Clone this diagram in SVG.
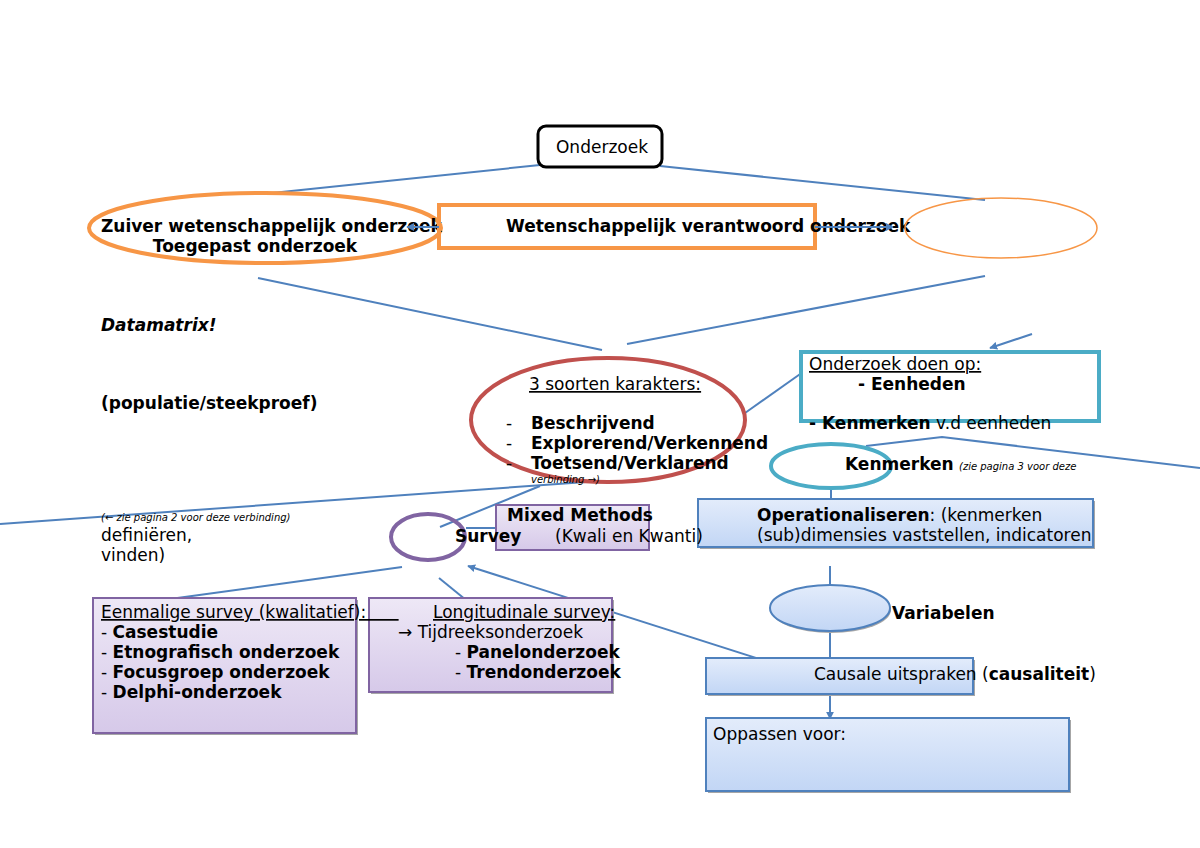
<svg xmlns="http://www.w3.org/2000/svg" width="1200" height="848" viewBox="0 0 1200 848">
<style>
text{font-family:"DejaVu Sans","Liberation Sans",sans-serif;font-size:17px;fill:#000}
.b{font-weight:bold}
.i{font-style:italic}
.u{text-decoration:underline}
.sm{font-size:10px;font-style:italic}
.c{fill:none;stroke:#4F81BD;stroke-width:2}
.or{fill:none;stroke:#F79646;stroke-width:4}
.pb{fill:url(#gp);stroke:#8064A2;stroke-width:2}
.bb{fill:url(#gb);stroke:#4F81BD;stroke-width:2}
.sh{fill:#A6A6A6}
</style>
<defs>
<linearGradient id="gp" x1="0" y1="0" x2="0" y2="1"><stop offset="0" stop-color="#EEE8F6"/><stop offset="1" stop-color="#D6C9E9"/></linearGradient>
<linearGradient id="gb" x1="0" y1="0" x2="0" y2="1"><stop offset="0" stop-color="#E3ECFB"/><stop offset="1" stop-color="#C2D6F5"/></linearGradient>
<marker id="ah" viewBox="0 0 10 10" refX="9" refY="5" markerWidth="4" markerHeight="4" orient="auto"><path d="M0,0 L10,5 L0,10 z" fill="#4F81BD"/></marker>
</defs>
<rect width="1200" height="848" fill="#fff"/>

<g id="connectors">
<line class="c" x1="540" y1="165" x2="272" y2="193"/>
<line class="c" x1="660" y1="166" x2="985" y2="200"/>
<line class="c" x1="258" y1="278" x2="602" y2="350"/>
<line class="c" x1="985" y1="276" x2="627" y2="344"/>
<line class="c" x1="1032" y1="334" x2="990" y2="348" marker-end="url(#ah)"/>
<line class="c" x1="745" y1="413" x2="803" y2="372"/>
<polyline class="c" points="866,446 942,437 1200,468"/>
<line class="c" x1="0" y1="524" x2="600" y2="481"/>
<line class="c" x1="440" y1="527" x2="540" y2="486"/>
<line class="c" x1="466" y1="528" x2="496" y2="528"/>
<line class="c" x1="402" y1="567" x2="170" y2="599"/>
<line class="c" x1="439" y1="578" x2="466" y2="600"/>
<line class="c" x1="831" y1="488" x2="831" y2="515"/>
<line class="c" x1="830" y1="566" x2="830" y2="586"/>
<line class="c" x1="830" y1="631" x2="830" y2="658"/>
<line class="c" x1="830" y1="694" x2="830" y2="719" marker-end="url(#ah)"/>
<line class="c" x1="772" y1="663" x2="468" y2="566" marker-end="url(#ah)"/>
</g>

<g id="onderzoek">
<rect x="538" y="126" width="124" height="41" rx="8" fill="#fff" stroke="#000" stroke-width="3"/>
<text x="602" y="153" text-anchor="middle">Onderzoek</text>
</g>

<g id="zuiver">
<ellipse class="or" cx="265" cy="228" rx="176" ry="35"/>
<text class="b" x="101" y="232">Zuiver wetenschappelijk onderzoek</text>
<text class="b" x="255" y="252" text-anchor="middle">Toegepast onderzoek</text>
</g>

<g id="verantwoord">
<rect class="or" x="439" y="205" width="376" height="43" fill="none"/>
<text class="b" x="506" y="232">Wetenschappelijk verantwoord onderzoek</text>
</g>
<g id="arrows-top">
<line class="c" x1="439" y1="227" x2="407" y2="227" marker-end="url(#ah)"/>
<line class="c" x1="815" y1="227" x2="893" y2="227" marker-end="url(#ah)"/>
</g>

<g id="right-ellipse">
<ellipse cx="1001" cy="228" rx="96" ry="30" fill="none" stroke="#F79646" stroke-width="1.5"/>
</g>

<g id="datamatrix">
<text class="b i" x="101" y="331">Datamatrix!</text>
<text class="b" x="101" y="409">(populatie/steekproef)</text>
</g>

<g id="karakters">
<ellipse cx="608" cy="420" rx="137" ry="62" fill="none" stroke="#C0504D" stroke-width="4"/>
<text class="u" x="529" y="390">3 soorten karakters: </text>
<text x="506" y="429">-</text><text class="b" x="531" y="429">Beschrijvend</text>
<text x="506" y="449">-</text><text class="b" x="531" y="449">Explorerend/Verkennend</text>
<text x="506" y="469">-</text><text class="b" x="531" y="469">Toetsend/Verklarend</text>
<text class="sm" x="531" y="483">verbinding  →)</text>
</g>

<g id="doen-op">
<rect x="801" y="352" width="298" height="69" fill="#fff" stroke="#4BACC6" stroke-width="4"/>
<text class="u" x="809" y="370">Onderzoek doen op:</text>
<text class="b" x="858" y="390">- Eenheden</text>
<text x="809" y="429"><tspan class="b">- Kenmerken</tspan> v.d eenheden</text>
</g>

<g id="kenmerken">
<ellipse cx="831" cy="466" rx="60" ry="22" fill="none" stroke="#4BACC6" stroke-width="4"/>
<text class="b" x="845" y="470">Kenmerken</text>
<text class="sm" x="959" y="470">(zie pagina 3 voor deze</text>
</g>

<g id="operationaliseren">
<rect class="sh" x="700" y="501" width="395" height="48"/>
<rect class="bb" x="698" y="499" width="395" height="48"/>
<text x="757" y="521"><tspan class="b">Operationaliseren</tspan>: (kenmerken</text>
<text x="757" y="541">(sub)dimensies vaststellen, indicatoren</text>
</g>

<g id="variabelen">
<ellipse cx="831" cy="610" rx="60" ry="23" fill="#A6A6A6"/>
<ellipse cx="830" cy="608" rx="60" ry="23" fill="url(#gb)" stroke="#4F81BD" stroke-width="2"/>
<text class="b" x="892" y="619">Variabelen</text>
</g>

<g id="causale">
<rect class="sh" x="708" y="660" width="267" height="36"/>
<rect class="bb" x="706" y="658" width="267" height="36"/>
<text x="814" y="680">Causale uitspraken (<tspan class="b">causaliteit</tspan>)</text>
</g>

<g id="oppassen">
<rect class="sh" x="708" y="720" width="363" height="73"/>
<rect class="bb" x="706" y="718" width="363" height="73"/>
<text x="713" y="740">Oppassen voor:</text>
</g>

<g id="survey">
<ellipse cx="428" cy="537" rx="37" ry="23" fill="none" stroke="#8064A2" stroke-width="4"/>
</g>

<g id="mixed">
<rect class="pb" x="496" y="505" width="153" height="45"/>
<text class="b" x="507" y="521">Mixed Methods</text>
<text class="b" x="455" y="542">Survey</text>
<text x="555" y="542">(Kwali en Kwanti)</text>
</g>

<g id="links">
<text class="sm" x="101" y="521">(← zie pagina 2 voor deze verbinding)</text>
<text x="101" y="541">definiëren,</text>
<text x="101" y="561">vinden)</text>
</g>

<g id="eenmalig">
<rect class="sh" x="95" y="600" width="263" height="135"/>
<rect class="pb" x="93" y="598" width="263" height="135"/>
</g>
<g id="longitudinaal">
<rect class="sh" x="371" y="600" width="243" height="94"/>
<rect class="pb" x="369" y="598" width="243" height="94"/>
</g>
<g id="eenmalig-text">
<text class="u" x="101" y="618" xml:space="preserve">Eenmalige survey (kwalitatief):      </text>
<text x="101" y="638">- <tspan class="b">Casestudie</tspan></text>
<text x="101" y="658">- <tspan class="b">Etnografisch onderzoek</tspan></text>
<text x="101" y="678">- <tspan class="b">Focusgroep onderzoek</tspan></text>
<text x="101" y="698">- <tspan class="b">Delphi-onderzoek</tspan></text>
</g>
<g id="longitudinaal-text">
<text class="u" x="433" y="618">Longitudinale survey:</text>
<text x="398" y="638">→ Tijdreeksonderzoek</text>
<text x="455" y="658">- <tspan class="b">Panelonderzoek</tspan></text>
<text x="455" y="678">- <tspan class="b">Trendonderzoek</tspan></text>
</g>
</svg>
